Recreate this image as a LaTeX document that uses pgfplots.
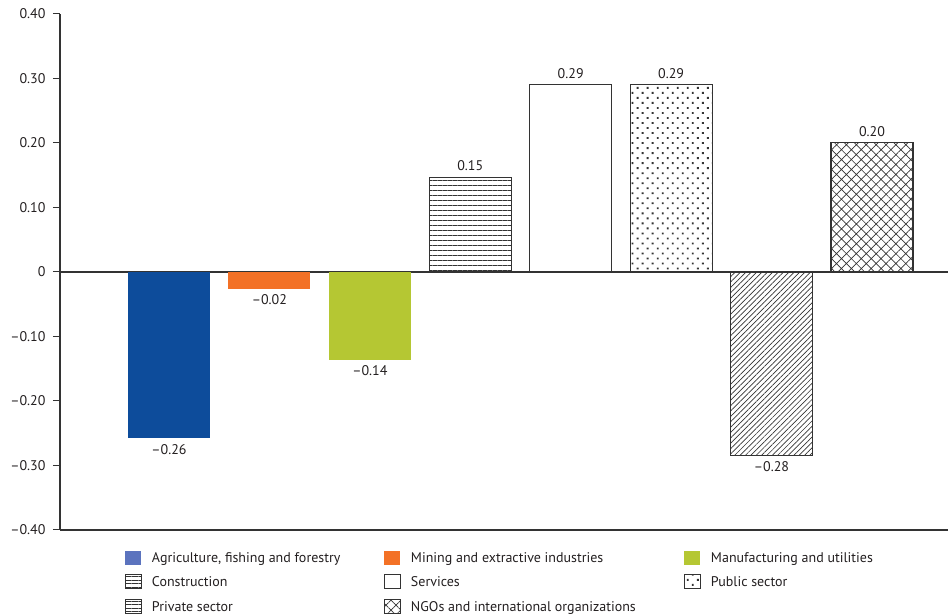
\documentclass[border=0pt]{standalone}
\usepackage{fontspec}
\setmainfont{PT Sans}
\usepackage{pgfplots}
\pgfplotsset{compat=1.18}
\usetikzlibrary{patterns.meta}
\definecolor{agri}{HTML}{0D4C9B}
\definecolor{agrileg}{HTML}{5B73BE}
\definecolor{mining}{HTML}{F37126}
\definecolor{manuf}{HTML}{B5C733}
\definecolor{axisgray}{HTML}{333333}
\definecolor{txt}{HTML}{231F20}
\begin{document}
\begin{tikzpicture}
\begin{axis}[
  scale only axis, width=888pt, height=516pt,
  xmin=-1.085, xmax=7.757, ymin=-0.4, ymax=0.4,
  axis x line=bottom, axis y line=left,
  axis line style={axisgray, line width=1.1pt, -},
  xtick=\empty,
  ytick={-0.4,-0.3,-0.2,-0.1,0,0.1,0.2,0.3,0.4},
  yticklabels={–0.40,–0.30,–0.20,–0.10,0,0.10,0.20,0.30,0.40},
  tick align=outside, major tick length=7pt,
  tick style={axisgray, line width=1pt},
  yticklabel style={font=\fontsize{14}{16}\selectfont, text=txt, xshift=-4pt},
  ybar, bar width=82pt, bar shift=0pt,
  nodes near coords, point meta=explicit symbolic,
  every node near coord/.append style={font=\fontsize{14}{16}\selectfont, text=txt, inner sep=5.5pt},
  neg/.style={every node near coord/.append style={anchor=north}},
  legend columns=3,
  legend style={at={(rel axis cs:0.0732,-0.040)}, anchor=north west, draw=none, fill=none,
    inner sep=0pt, outer sep=0pt, font=\fontsize{14}{17}\selectfont, text=txt,
    nodes={inner sep=0pt}, cells={anchor=west}, row sep=9.5pt,
    /tikz/every odd column/.style={column sep=10pt}},
  pbar/.style={draw=axisgray, line width=1.1pt, pattern color=axisgray},
]
\draw[axisgray, line width=1.1pt] (axis cs:-1.085,0) -- (axis cs:7.757,0);
\addplot[neg, fill=agri, draw=none,
  legend image code/.code={\fill[agrileg] (0pt,-7pt) rectangle (16pt,7pt);}]
  coordinates {(0,-0.258) [–0.26]};
\addlegendentry{\makebox[232pt][l]{\strut Agriculture, fishing and forestry}}
\addplot[neg, fill=mining, draw=none,
  legend image code/.code={\fill[mining] (0pt,-7pt) rectangle (16pt,7pt);}]
  coordinates {(1,-0.026) [–0.02]};
\addlegendentry{\makebox[273pt][l]{\strut Mining and extractive industries}}
\addplot[neg, fill=manuf, draw=none,
  legend image code/.code={\fill[manuf] (0pt,-7pt) rectangle (16pt,7pt);}]
  coordinates {(2,-0.136) [–0.14]};
\addlegendentry{\makebox[220pt][l]{\strut Manufacturing and utilities}}
\addplot[pbar, pattern={Lines[angle=0,distance=5pt,line width=0.7pt]},
  legend image code/.code={\draw[axisgray, line width=1pt, pattern={Lines[angle=0,distance=3.5pt,line width=0.7pt]}, pattern color=axisgray] (0pt,-7pt) rectangle (16pt,7pt);}]
  coordinates {(3,0.147) [0.15]};
\addlegendentry{\makebox[232pt][l]{\strut Construction}}
\addplot[pbar, fill=white,
  legend image code/.code={\draw[axisgray, line width=1pt, fill=white] (0pt,-7pt) rectangle (16pt,7pt);}]
  coordinates {(4,0.291) [0.29]};
\addlegendentry{\makebox[273pt][l]{\strut Services}}
\addplot[pbar, pattern={Dots[angle=45,distance=7.1pt,radius=1.3pt]},
  legend image code/.code={\draw[axisgray, line width=1pt, pattern={Dots[angle=45,distance=7.1pt,radius=1.3pt]}, pattern color=axisgray] (0pt,-7pt) rectangle (16pt,7pt);}]
  coordinates {(5,0.291) [0.29]};
\addlegendentry{\makebox[220pt][l]{\strut Public sector}}
\addplot[neg, pbar, pattern={Lines[angle=45,distance=3.8pt,line width=0.7pt]},
  legend image code/.code={\draw[axisgray, line width=1pt, pattern={Lines[angle=0,distance=3.5pt,line width=0.7pt]}, pattern color=axisgray] (0pt,-7pt) rectangle (16pt,7pt);}]
  coordinates {(6,-0.285) [–0.28]};
\addlegendentry{\makebox[232pt][l]{\strut Private sector}}
\addplot[pbar, pattern={Hatch[angle=45,distance=7pt,line width=0.7pt]},
  legend image code/.code={\draw[axisgray, line width=1pt, pattern={Hatch[angle=45,distance=7pt,line width=0.7pt]}, pattern color=axisgray] (0pt,-7pt) rectangle (16pt,7pt);}]
  coordinates {(7,0.201) [0.20]};
\addlegendentry{\makebox[273pt][l]{\strut NGOs and international organizations}}
\coordinate (SW) at (rel axis cs:0,0);
\coordinate (NE) at (rel axis cs:1,1);
\end{axis}
\pgfresetboundingbox
\path ([xshift=-60pt,yshift=-85pt]SW) rectangle ([yshift=14pt]NE);
\end{tikzpicture}
\end{document}
